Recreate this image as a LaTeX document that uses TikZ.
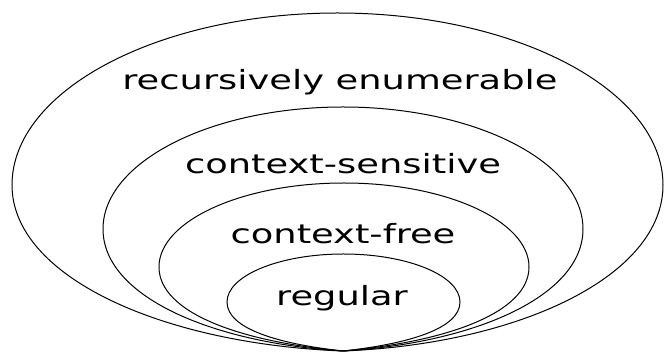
\documentclass[tikz,border=0pt]{standalone}
\usepackage{fontspec}
\newfontfamily\langfont{DejaVu Sans}
\usetikzlibrary{positioning}
\tikzset{
  % --- nodes
  lang/.style  = {font=\langfont\fontsize{26.5}{30}\selectfont, xscale=1.39,
                  anchor=base, inner sep=0pt},
  % --- shells
  shell/.style = {draw=black, line width=1pt},
}
\begin{document}
\begin{tikzpicture}[x=1pt,y=-1pt]
  \useasboundingbox (0,0) rectangle (665,352);
  \coordinate (tip) at (343,351);
  % left/right/top/middle/pinch of each class
  \foreach \l/\r/\t/\c/\s in {12/663/13/185/7, 103/583/107/229/8,
                              159/529/183/267/9, 227/460/254/302/7} {
    \pgfmathsetmacro\m{(\l+\r)/2}
    \draw[shell] (tip)
      .. controls ({343-0.55*(343-\l)},{351-\s}) and (\l,{\c+0.55*(351-\c)}) .. (\l,\c)
      .. controls (\l,{\c-0.55*(\c-\t)}) and ({\m-0.55*(\m-\l)},\t) .. (\m,\t)
      .. controls ({\m+0.55*(\r-\m)},\t) and (\r,{\c-0.55*(\c-\t)}) .. (\r,\c)
      .. controls (\r,{\c+0.55*(351-\c)}) and ({343+0.55*(\r-343)},{351-\s}) .. (tip);
  }
  \node[lang] (re)  at (340,90)  {recursively enumerable};
  \node[lang] (cs)  at (343,174) {context-sensitive};
  \node[lang] (cf)  at (343,244) {context-free};
  \node[lang] (reg) at (342,306) {regular};
\end{tikzpicture}
\end{document}
